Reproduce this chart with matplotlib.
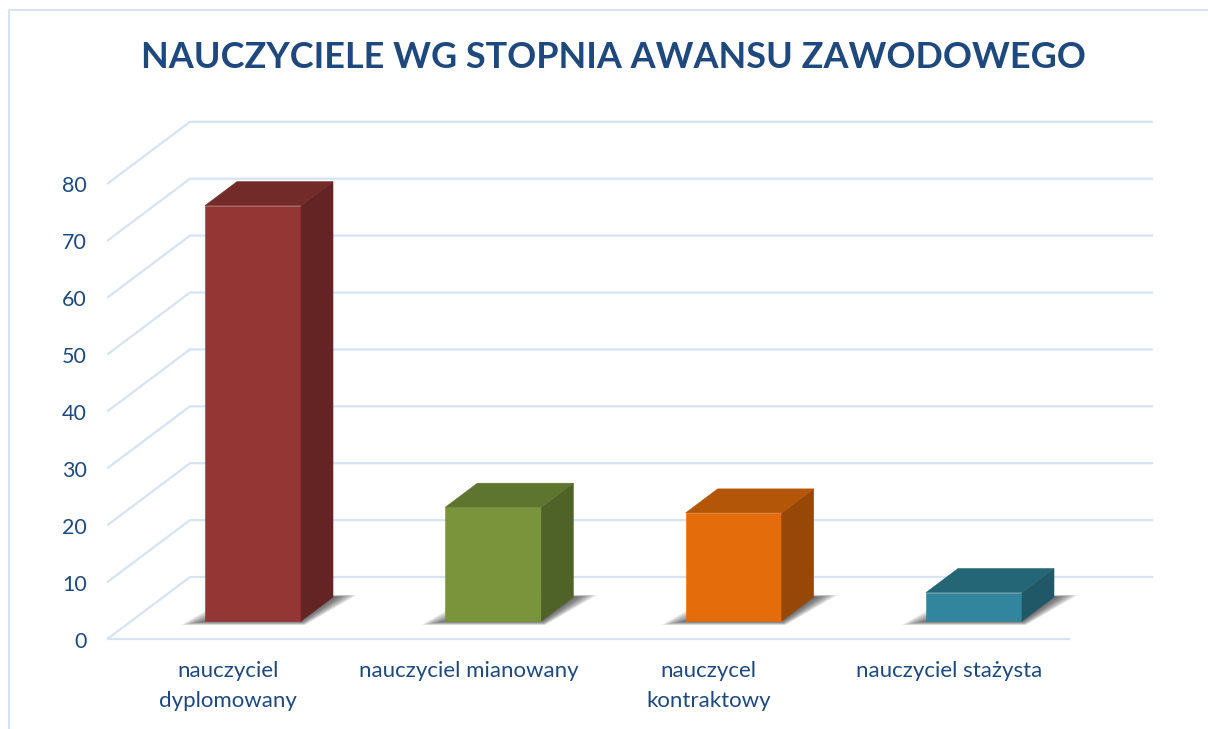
#!/usr/bin/env python3
# -*- coding: utf-8 -*-

import matplotlib
matplotlib.use("Agg")
from matplotlib import pyplot as plt
from matplotlib.patches import Polygon

TITLE = "NAUCZYCIELE WG STOPNIA AWANSU ZAWODOWEGO"
CATEGORIES = ["nauczyciel\ndyplomowany", "nauczyciel mianowany", "nauczycel\nkontraktowy", "nauczyciel stażysta"]
VALUES = [73, 20, 19, 5]
Y_TICKS = [0, 10, 20, 30, 40, 50, 60, 70, 80]

FRONT_COLORS = ["#943634", "#7A943C", "#E46C0A", "#31859C"]
SIDE_COLORS = ["#632423", "#4F6228", "#974806", "#205867"]
TOP_COLORS = ["#722B29", "#5E7530", "#B45608", "#256676"]

TEXT_COLOR = "#1F497D"
GRID_COLOR = "#D6E3F3"

W, H = 1208, 729
X0_PX, X_STEP_PX = 253.0, 240.33   # pixel of first bar centre, pixels per category
Y0_PX, Y_STEP_PX = 621.0, 5.69     # pixel of value 0 on the bar plane, pixels per unit

BAR_W = 96 / X_STEP_PX
DEPTH_X = 32 / X_STEP_PX
DEPTH_Y = 24 / Y_STEP_PX

# floor corners relative to the bar plane
FRONT_Y = -17.5 / Y_STEP_PX
BACK_Y = 44 / Y_STEP_PX
WALL_FRONT_X = (108 - X0_PX) / X_STEP_PX
WALL_BACK_X = (190 - X0_PX) / X_STEP_PX
RIGHT_BACK_X = (1152 - X0_PX) / X_STEP_PX
RIGHT_FRONT_X = (1069 - X0_PX) / X_STEP_PX


def px_x(p):
    return (p - X0_PX) / X_STEP_PX


def px_y(p):
    return (Y0_PX - p) / Y_STEP_PX


def draw_grid(ax):
    for v in Y_TICKS:
        ax.plot([WALL_FRONT_X, WALL_BACK_X, RIGHT_BACK_X], [v + FRONT_Y, v + BACK_Y, v + BACK_Y],
                color=GRID_COLOR, lw=1.6, solid_joinstyle="miter", zorder=1)
        ax.text(px_x(87), v + FRONT_Y - 0.55, str(v), ha="right", va="center",
                fontsize=15.5, color=TEXT_COLOR)
    ax.plot([WALL_FRONT_X, RIGHT_FRONT_X], [FRONT_Y, FRONT_Y], color=GRID_COLOR, lw=1.6, zorder=1)


def draw_shadow(ax, i):
    # soft floor shadow built from stacked translucent polygons
    left, right = i - BAR_W / 2, i + BAR_W / 2
    layers = 14
    for k in range(layers):
        s = 1 - k / layers
        pts = [(left - 24 * s / X_STEP_PX, -4 * s / Y_STEP_PX),
               (right + 4 * s / X_STEP_PX, -4 * s / Y_STEP_PX),
               (right + DEPTH_X + 24 * s / X_STEP_PX, DEPTH_Y + 2 * s / Y_STEP_PX),
               (right + DEPTH_X, DEPTH_Y + 2 * s / Y_STEP_PX),
               (left + 24 / X_STEP_PX, 24 * s / Y_STEP_PX)]
        ax.add_patch(Polygon(pts, closed=True, fc="#303030", ec="none", alpha=0.08, zorder=2))


def draw_bar(ax, i, value):
    left, right = i - BAR_W / 2, i + BAR_W / 2
    draw_shadow(ax, i)
    ax.add_patch(Polygon([(left, 0), (right, 0), (right, value), (left, value)], closed=True,
                         fc=FRONT_COLORS[i], ec=FRONT_COLORS[i], lw=0.4, zorder=3))
    ax.add_patch(Polygon([(right, 0), (right + DEPTH_X, DEPTH_Y), (right + DEPTH_X, value + DEPTH_Y), (right, value)],
                         closed=True, fc=SIDE_COLORS[i], ec=SIDE_COLORS[i], lw=0.4, zorder=3))
    ax.add_patch(Polygon([(left, value), (right, value), (right + DEPTH_X, value + DEPTH_Y), (left + DEPTH_X, value + DEPTH_Y)],
                         closed=True, fc=TOP_COLORS[i], ec=TOP_COLORS[i], lw=0.4, zorder=3))


def main():
    plt.rcParams["font.family"] = ["Lato", "DejaVu Sans"]

    fig = plt.figure(figsize=(W / 100, H / 100), dpi=100)
    ax = fig.add_axes([0, 0, 1, 1])
    ax.set_xlim(px_x(0), px_x(W))
    ax.set_ylim(px_y(H), px_y(0))
    ax.axis("off")

    # outer chart frame
    ax.plot([px_x(9), px_x(9), px_x(W)], [px_y(H), px_y(10), px_y(10)], color=GRID_COLOR, lw=1.4, zorder=1)

    draw_grid(ax)

    for i, value in enumerate(VALUES):
        draw_bar(ax, i, value)
        ax.text(i - 25 / X_STEP_PX, px_y(661), CATEGORIES[i], ha="center", va="top",
                fontsize=16, color=TEXT_COLOR, linespacing=1.6)

    ax.text(px_x(613), px_y(58), TITLE, ha="center", va="center", fontsize=25.9,
            fontweight="bold", color=TEXT_COLOR)

    fig.savefig("out.png", dpi=100)
    plt.close(fig)


if __name__ == "__main__":
    main()
